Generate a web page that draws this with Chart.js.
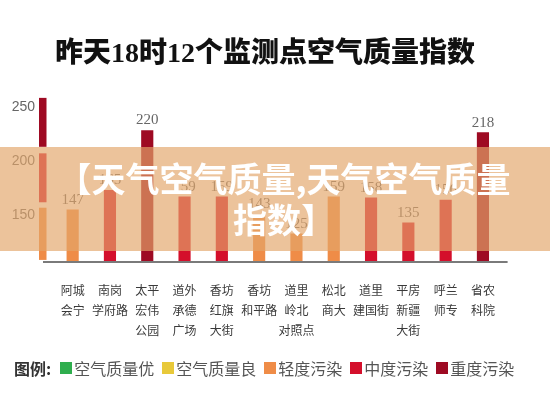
<!DOCTYPE html>
<html>
<head>
<meta charset="utf-8">
<script src="https://cdn.jsdelivr.net/npm/chart.js@4.4.0/dist/chart.umd.min.js"></script>
<style>
  html, body { margin: 0; padding: 0; background: #fff; }
  #wrap { position: relative; width: 550px; height: 399px; overflow: hidden; font-family: "Noto Sans CJK SC", sans-serif; }
  #chart { position: absolute; left: 0; top: 0; }
  #title { position: absolute; left: 55px; top: 38px; font-size: 28px; line-height: 30px; font-weight: 900; color: #111; font-family: "Liberation Serif", "Noto Sans CJK SC", serif; white-space: nowrap; }
  #band { position: absolute; left: 0; top: 147px; width: 550px; height: 104px; background: rgba(227, 166, 106, 0.67); }
  #mark { position: absolute; left: 9px; top: 157px; width: 550px; text-align: center; font-size: 34px; line-height: 41px; font-weight: 700; color: #fff; }
  #legend { position: absolute; left: 14px; top: 358px; height: 20px; display: flex; align-items: center; font-size: 16px; color: #555; white-space: nowrap; }
  #legend .head { font-weight: 700; color: #333; margin-right: 9px; }
  #legend .sw { width: 12px; height: 12px; margin-right: 2px; }
  #legend .txt { margin-right: 8px; }
</style>
</head>
<body>
<div id="wrap">
  <canvas id="chart" width="550" height="399"></canvas>
  <div id="title">昨天18时12个监测点空气质量指数</div>
  <div id="band"></div>
  <div id="mark">【天气空气质量,天气空气质量<br>指数】</div>
  <div id="legend"><span class="head">图例:</span></div>
</div>
<script>
// monitoring stations (multi-line labels)
const categories = [
  ["阿城", "会宁"], ["南岗", "学府路"], ["太平", "宏伟", "公园"], ["道外", "承德", "广场"],
  ["香坊", "红旗", "大街"], ["香坊", "和平路"], ["道里", "岭北", "对照点"], ["松北", "商大"],
  ["道里", "建国街"], ["平房", "新疆", "大街"], ["呼兰", "师专"], ["省农", "科院"]
];
const aqiValues = [147, 165, 220, 159, 159, 143, 125, 159, 158, 135, 156, 218];
// index into levelNames / levelColors
const levelIndex = [2, 3, 4, 3, 3, 2, 2, 2, 3, 3, 3, 4];
const levelNames = ["空气质量优", "空气质量良", "轻度污染", "中度污染", "重度污染"];
const levelColors = ["#2fae4e", "#e8c93a", "#ef8c47", "#d40f2b", "#9e0a23"];
const yTicks = [150, 200, 250];
// coloured scale strip next to the y axis
const scaleBarRanges = [[101, 149], [154, 199], [205, 250]];
const scaleBarLevels = [2, 3, 4];

const legend = document.getElementById("legend");
levelNames.forEach((name, i) => {
  const sw = document.createElement("span");
  sw.className = "sw";
  sw.style.background = levelColors[i];
  const t = document.createElement("span");
  t.className = "txt";
  t.textContent = name;
  legend.appendChild(sw);
  legend.appendChild(t);
});

const extras = {
  id: "extras",
  afterDatasetsDraw(chart) {
    const { ctx, chartArea, scales: { y } } = chart;
    ctx.save();
    scaleBarRanges.forEach((r, i) => {
      const top = y.getPixelForValue(r[1]);
      const bot = y.getPixelForValue(r[0]);
      ctx.fillStyle = levelColors[scaleBarLevels[i]];
      ctx.fillRect(chartArea.left - 15, top, 7.5, bot - top);
    });
    // base line
    ctx.strokeStyle = "#7a7a7a";
    ctx.lineWidth = 2;
    ctx.beginPath();
    ctx.moveTo(chartArea.left - 11, chartArea.bottom + 1);
    ctx.lineTo(chartArea.right + 6, chartArea.bottom + 1);
    ctx.stroke();
    // value labels
    ctx.font = '15px "Liberation Serif"';
    ctx.fillStyle = "#666";
    ctx.textAlign = "center";
    ctx.textBaseline = "middle";
    chart.getDatasetMeta(0).data.forEach((bar, i) => {
      ctx.fillText(String(aqiValues[i]), bar.x, bar.y - 10);
    });
    ctx.restore();
  }
};

new Chart(document.getElementById("chart"), {
  type: "bar",
  data: {
    labels: categories,
    datasets: [{
      data: aqiValues,
      backgroundColor: aqiValues.map((v, i) => levelColors[levelIndex[i]]),
      barThickness: 11.5,
      borderWidth: 0
    }]
  },
  options: {
    responsive: false,
    animation: false,
    layout: { padding: { top: 87, right: 48.4, bottom: 0, left: 0 } },
    plugins: { legend: { display: false }, tooltip: { enabled: false } },
    scales: {
      x: {
        offset: true,
        grid: { display: false, drawTicks: false },
        border: { display: false },
        afterFit: (ax) => { ax.height = 138; },
        ticks: {
          padding: 19, autoSkip: false, maxRotation: 0, color: "#3a3a3a",
          font: { family: '"Noto Sans CJK SC"', size: 12, lineHeight: 1.667 }
        }
      },
      y: {
        min: 100,
        max: 260,
        afterBuildTicks: (ax) => { ax.ticks = yTicks.map((v) => ({ value: v })); },
        afterFit: (ax) => { ax.width = 54; },
        grid: { display: false, drawTicks: false },
        border: { display: false },
        ticks: { padding: 19, labelOffset: 9, color: "#666", font: { family: '"Liberation Sans"', size: 14 } }
      }
    }
  },
  plugins: [extras]
});
</script>
</body>
</html>
